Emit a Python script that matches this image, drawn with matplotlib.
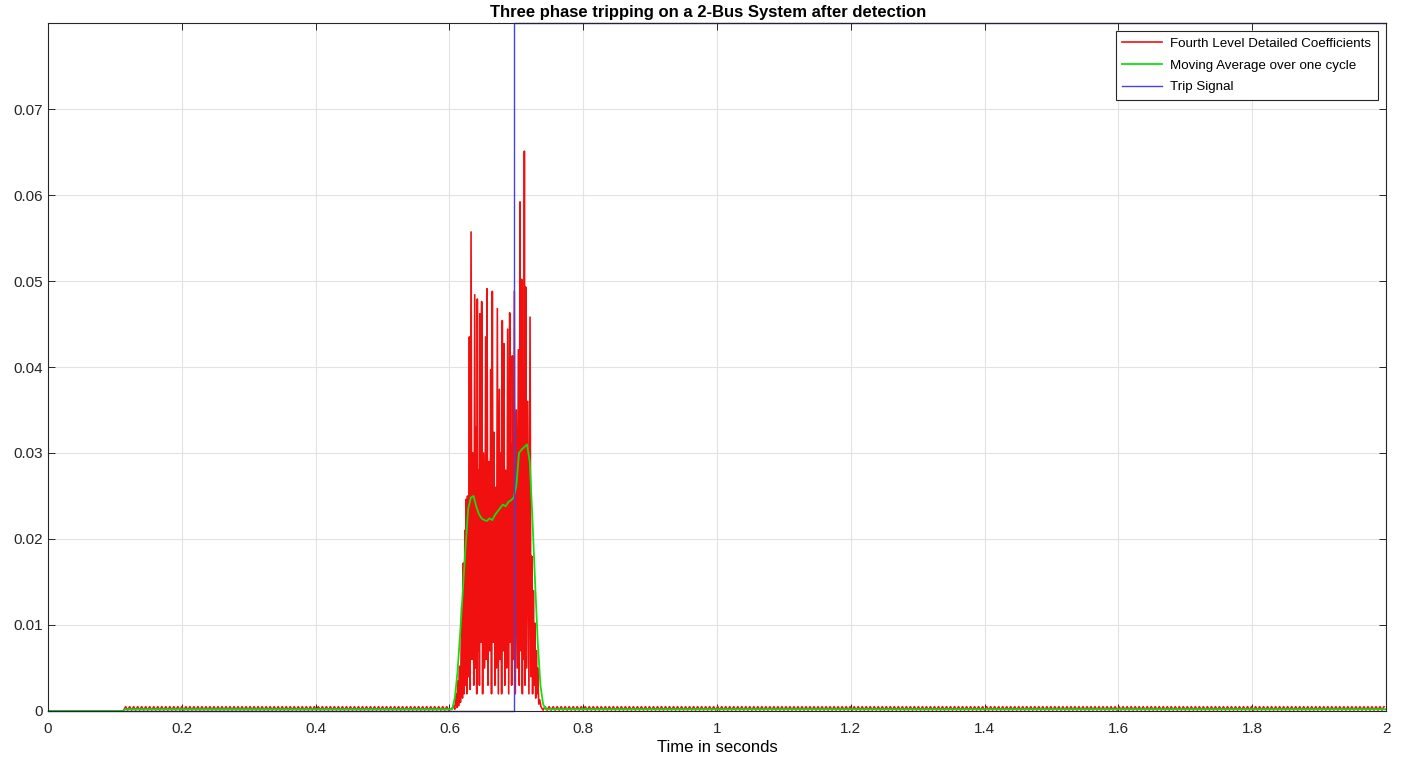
import numpy as np
from matplotlib import pyplot as plt

plt.rcParams['font.family'] = ['Liberation Sans', 'DejaVu Sans']

# burst of the 4th level detail coefficients, (time, value)
burst = [
    (0.6040, 0.0003), (0.6060, 0.0006), (0.6080, 0.0002), (0.6099, 0.0020),
    (0.6112, 0.0004), (0.6125, 0.0035), (0.6137, 0.0006), (0.6148, 0.0052),
    (0.6165, 0.0010), (0.6183, 0.0122), (0.6195, 0.0015), (0.6208, 0.0172),
    (0.6220, 0.0020), (0.6230, 0.0210), (0.6240, 0.0030), (0.6248, 0.0246),
    (0.6260, 0.0020), (0.6270, 0.0250), (0.6285, 0.0040), (0.6298, 0.0435),
    (0.6310, 0.0025), (0.6323, 0.0557), (0.6337, 0.0060), (0.6350, 0.0300),
    (0.6364, 0.0030), (0.6378, 0.0484), (0.6390, 0.0050), (0.6400, 0.0330),
    (0.6408, 0.0020), (0.6417, 0.0479), (0.6430, 0.0070), (0.6440, 0.0280),
    (0.6448, 0.0030), (0.6457, 0.0462), (0.6470, 0.0080), (0.6482, 0.0476),
    (0.6496, 0.0020), (0.6510, 0.0300), (0.6526, 0.0050), (0.6542, 0.0435),
    (0.6552, 0.0060), (0.6562, 0.0491), (0.6576, 0.0030), (0.6590, 0.0290),
    (0.6604, 0.0070), (0.6617, 0.0397), (0.6629, 0.0020), (0.6641, 0.0488),
    (0.6655, 0.0080), (0.6668, 0.0324), (0.6680, 0.0030), (0.6690, 0.0260),
    (0.6703, 0.0050), (0.6716, 0.0468), (0.6731, 0.0020), (0.6746, 0.0374),
    (0.6758, 0.0060), (0.6770, 0.0300), (0.6780, 0.0020), (0.6790, 0.0454),
    (0.6803, 0.0070), (0.6816, 0.0427), (0.6828, 0.0030), (0.6840, 0.0280),
    (0.6855, 0.0050), (0.6871, 0.0444), (0.6886, 0.0020), (0.6901, 0.0463),
    (0.6910, 0.0080), (0.6920, 0.0310), (0.6930, 0.0030), (0.6940, 0.0413),
    (0.6955, 0.0060), (0.6970, 0.0488), (0.6985, 0.0020), (0.7000, 0.0350),
    (0.7015, 0.0050), (0.7030, 0.0420), (0.7043, 0.0030), (0.7055, 0.0592),
    (0.7068, 0.0070), (0.7080, 0.0502), (0.7090, 0.0020), (0.7100, 0.0400),
    (0.7110, 0.0060), (0.7120, 0.0651), (0.7130, 0.0030), (0.7140, 0.0493),
    (0.7155, 0.0050), (0.7170, 0.0360), (0.7188, 0.0020), (0.7205, 0.0458),
    (0.7218, 0.0040), (0.7230, 0.0180), (0.7243, 0.0020), (0.7255, 0.0140),
    (0.7268, 0.0030), (0.7280, 0.0102), (0.7290, 0.0015), (0.7300, 0.0070),
    (0.7310, 0.0020), (0.7320, 0.0050), (0.7335, 0.0008), (0.7350, 0.0013),
    (0.7368, 0.0005),
]

# small steady-state ripple of the coefficients (one period)
ripple_start = 0.113
ripple_period = 0.006
ripple_pattern = [0.0001, 0.0005]

# moving average over one cycle
avg_t = [0, 0.112, 0.115, 0.604, 0.608, 0.612, 0.616, 0.620, 0.624, 0.628,
         0.632, 0.636, 0.640, 0.644, 0.648, 0.652, 0.656, 0.660, 0.664, 0.668,
         0.672, 0.676, 0.680, 0.684, 0.688, 0.692, 0.696, 0.700, 0.704, 0.708,
         0.712, 0.716, 0.720, 0.724, 0.728, 0.732, 0.736, 0.740, 0.744, 2.0]
avg_v = [0, 0, 0.0002, 0.0002, 0.0015, 0.0045, 0.009, 0.014, 0.019, 0.0235,
         0.0248, 0.0250, 0.0238, 0.0229, 0.0224, 0.0222, 0.0221, 0.0224, 0.0222, 0.0228,
         0.0232, 0.0236, 0.0240, 0.0238, 0.0243, 0.0245, 0.0248, 0.0262, 0.0300, 0.0304,
         0.0307, 0.0310, 0.0290, 0.0225, 0.0150, 0.0080, 0.0030, 0.0008, 0.0002, 0.0002]

# trip signal
trip_t = [0, 0.6966, 0.6966, 2.0]
trip_v = [0, 0, 0.08, 0.08]

# assemble the coefficient trace
n1 = int((0.604 - ripple_start) / ripple_period * 2)
n2 = int((2.0 - 0.737) / ripple_period * 2)
pre_t = ripple_start + np.arange(n1) * ripple_period / 2
post_t = 0.737 + np.arange(1, n2 + 1) * ripple_period / 2
pre_v = np.tile(ripple_pattern, n1 // 2 + 1)[:n1]
post_v = np.tile(ripple_pattern, n2 // 2 + 1)[:n2]
bt = np.array([b[0] for b in burst])
bv = np.array([b[1] for b in burst])
red_t = np.concatenate([[0, ripple_start - 0.001], pre_t, bt, post_t])
red_v = np.concatenate([[0, 0], pre_v, bv, post_v])

fig = plt.figure(figsize=(14.01, 7.6), dpi=100)
ax = fig.add_axes([0.0343, 0.0645, 0.9550, 0.9052])

ax.plot(red_t, red_v, color='#f01010', lw=1.2, label='Fourth Level Detailed Coefficients')
ax.plot(avg_t, avg_v, color='#10e010', lw=1.3, label='Moving Average over one cycle')
ax.plot(trip_t, trip_v, color='#4444dd', lw=1.0, label='Trip Signal', clip_on=False)

ax.set_xlim(0, 2)
ax.set_ylim(0, 0.08)
ax.set_xticks(np.arange(0, 2.01, 0.2))
ax.set_xticklabels(['0', '0.2', '0.4', '0.6', '0.8', '1', '1.2', '1.4', '1.6', '1.8', '2'])
ax.set_yticks(np.arange(0, 0.071, 0.01))
ax.set_yticklabels(['0', '0.01', '0.02', '0.03', '0.04', '0.05', '0.06', '0.07'])
ax.tick_params(direction='in', length=5, width=0.7, top=True, right=True,
               labelsize=11, colors='#262626')
ax.tick_params(axis='x', pad=8)
ax.grid(True, color='#e3e3e3', lw=0.8)
ax.set_axisbelow(True)
for s in ax.spines.values():
    s.set_color('#262626')
    s.set_linewidth(0.8)

ax.set_title('Three phase tripping on a 2-Bus System after detection',
             fontsize=12, fontweight='bold', pad=4, x=0.493)
ax.set_xlabel('Time in seconds', fontsize=12, labelpad=3)

leg = ax.legend(loc='upper right', fontsize=9.6, fancybox=False, framealpha=1,
                edgecolor='#262626', borderaxespad=0.6, handlelength=3.0,
                handletextpad=0.6, borderpad=0.5, labelspacing=0.7)
leg.get_frame().set_linewidth(0.8)

plt.savefig('out.png', dpi=100)
